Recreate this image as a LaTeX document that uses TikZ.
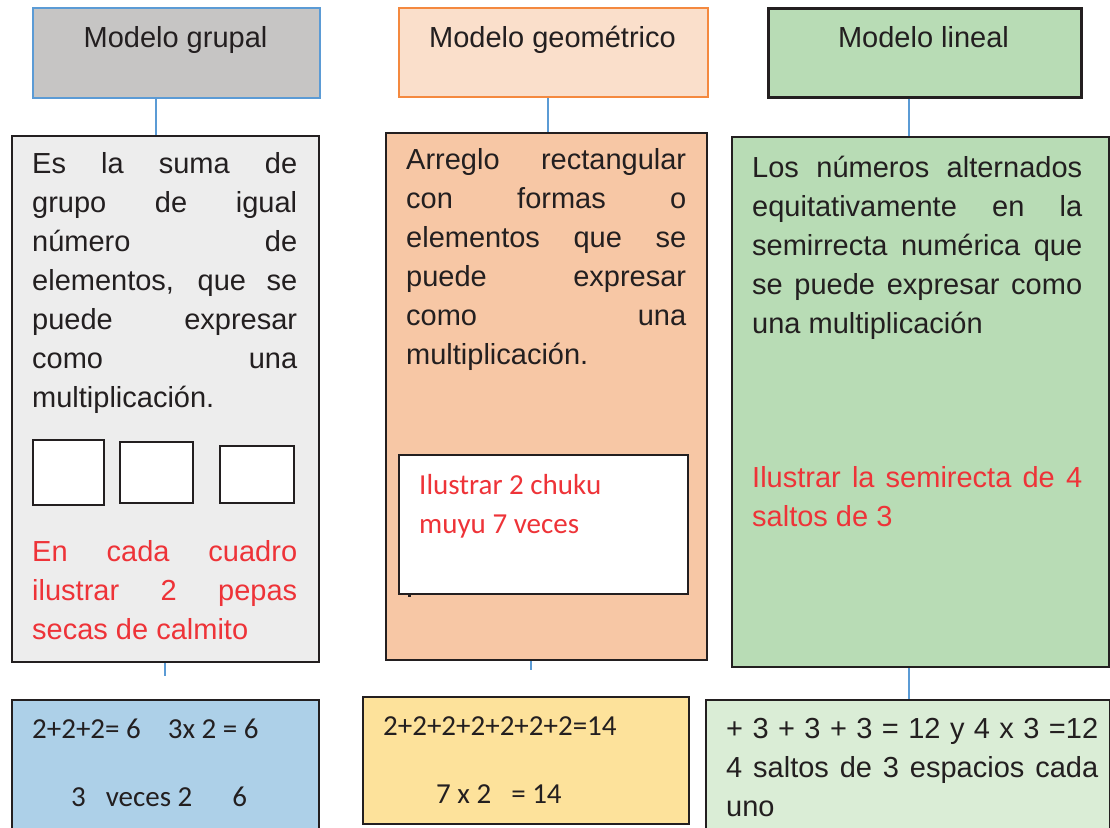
\documentclass[tikz,border=0pt]{standalone}
\usepackage{fontspec}
\setmainfont{Liberation Sans}
\newfontfamily\calibri{Carlito}
\usetikzlibrary{positioning}

\definecolor{ink}{HTML}{231F20}
\definecolor{linkblue}{HTML}{5B9BD5}
\definecolor{headgray}{HTML}{C6C5C4}
\definecolor{headpeach}{HTML}{FADFCB}
\definecolor{peachline}{HTML}{F4893F}
\definecolor{lingreen}{HTML}{B8DCB5}
\definecolor{defgray}{HTML}{EDEDED}
\definecolor{defpeach}{HTML}{F7C7A5}
\definecolor{ejblue}{HTML}{ADD0E8}
\definecolor{ejyellow}{HTML}{FDE29B}
\definecolor{ejgreen}{HTML}{DAEDD6}
\definecolor{notered}{HTML}{EE3338}

\begin{document}
\begin{tikzpicture}[
      x=1pt, y=-1pt,
      caja/.style = {
        draw=ink,
        line width=2pt,
        anchor=north west,
        inner sep=0pt
      },
      titulo/.style = {
        anchor=base,
        inner sep=0pt,
        text=ink,
        font=\fontsize{29}{39}\selectfont
      },
      parrafo/.style = {
        anchor=north west,
        inner sep=0pt,
        align=justify,
        text=ink,
        font=\fontsize{29}{39}\selectfont
      },
      cuenta/.style = {
        anchor=base west,
        inner sep=0pt,
        text=ink,
        font=\calibri\fontsize{29}{39}\selectfont
      },
      link/.style = {
        draw=linkblue,
        line width=1.1pt
      }
    ]
    \clip (0,0) rectangle (1110,827);
    \fill[white] (0,0) rectangle (1110,827);

    % cabeceras
    \node[caja, draw=linkblue, fill=headgray, minimum width=287, minimum height=90] (grupal) at (32,7) {};
    \node[caja, draw=peachline, fill=headpeach, minimum width=309, minimum height=89] (geometrico) at (398,7) {};
    \node[caja, line width=2.6pt, fill=lingreen, minimum width=313, minimum height=89] (lineal) at (767,7) {};

    \node[titulo] (grupalTit) at (175.5,47) {Modelo grupal};
    \node[titulo] (geometricoTit) at (552.5,47) {Modelo geométrico};
    \node[titulo] (linealTit) at (923.5,47) {Modelo lineal};

    % definiciones
    \node[caja, fill=defgray, minimum width=307, minimum height=526] (grupalDef) at (11,135) {};
    \node[caja, fill=defpeach, minimum width=321, minimum height=527] (geometricoDef) at (385,132) {};
    \node[caja, fill=lingreen, minimum width=377, minimum height=530] (linealDef) at (731,136) {};

    \node[parrafo, text width=265] (grupalTxt) at (32,146) {\strut Es la suma de\linebreak grupo de igual\linebreak número de\linebreak elementos, que se\linebreak puede expresar\linebreak como una\linebreak multiplicación.};
    \foreach \xa/\ya/\xb/\yb [count=\i] in {32/439/103/504, 119/441/192/502, 219/445/293/502} {
      \node[caja, fill=white, minimum width=\xb-\xa, minimum height=\yb-\ya] (cuadro\i) at (\xa,\ya) {};
    }
    \node[parrafo, text=notered, text width=265] (grupalNota) at (32,534) {\strut En cada cuadro\linebreak ilustrar 2 pepas\linebreak secas de calmito};

    \node[parrafo, text width=280] (geometricoTxt) at (406,142) {\strut Arreglo rectangular\linebreak con formas o\linebreak elementos que se\linebreak puede expresar\linebreak como una\linebreak multiplicación.};
    \node[caja, fill=white, minimum width=289, minimum height=139] (geometricoMarco) at (398,454) {};
    \node[cuenta, text=notered] (geometricoNota1) at (419,494) {Ilustrar 2 chuku};
    \node[cuenta, text=notered] (geometricoNota2) at (419,533) {muyu 7 veces};
    \fill[ink] (408,594) rectangle (411,597);

    \node[parrafo, text width=330] (linealTxt) at (752,150) {\strut Los números alternados\linebreak equitativamente en la\linebreak semirrecta numérica que\linebreak se puede expresar como\linebreak una multiplicación};
    \node[parrafo, text=notered, text width=330] (linealNota) at (752,460) {\strut Ilustrar la semirecta de 4\linebreak saltos de 3};

    % ejemplos
    \node[caja, fill=ejblue, minimum width=307, minimum height=150] (grupalEj) at (11,699) {};
    \node[caja, fill=ejyellow, minimum width=326, minimum height=127] (geometricoEj) at (362,696) {};
    \node[caja, fill=ejgreen, minimum width=404, minimum height=150] (linealEj) at (705,699) {};

    \node[cuenta] (grupalSuma) at (32,738) {2+2+2= 6\hspace{27pt}3x 2 = 6};
    \node[cuenta] (grupalVeces) at (71,806) {3\hspace{20pt}veces 2\hspace{40pt}6};
    \node[cuenta] (geometricoSuma) at (383,735) {2+2+2+2+2+2+2=14};
    \node[cuenta] (geometricoVeces) at (436,803) {7 x 2\hspace{20pt}= 14};
    \node[parrafo, text width=372] (linealSuma) at (726,711) {\strut + 3 + 3 + 3 = 12 y 4 x 3 =12\linebreak 4 saltos de 3 espacios cada\linebreak uno};

    % conectores
    \coordinate (eje1) at (156,0);
    \coordinate (eje2) at (548,0);
    \coordinate (eje3) at (909,0);
    \coordinate (pie1) at (165,676);
    \coordinate (pie2) at (531,670);

    \draw[link] (grupal.south -| eje1) -- (grupalDef.north -| eje1);
    \draw[link] (geometrico.south -| eje2) -- (geometricoDef.north -| eje2);
    \draw[link] (lineal.south -| eje3) -- (linealDef.north -| eje3);

    \draw[link] (grupalDef.south -| pie1) -- (pie1);
    \draw[link] (geometricoDef.south -| pie2) -- (pie2);
    \draw[link] (linealDef.south -| eje3) -- (linealEj.north -| eje3);
  \end{tikzpicture}
\end{document}
